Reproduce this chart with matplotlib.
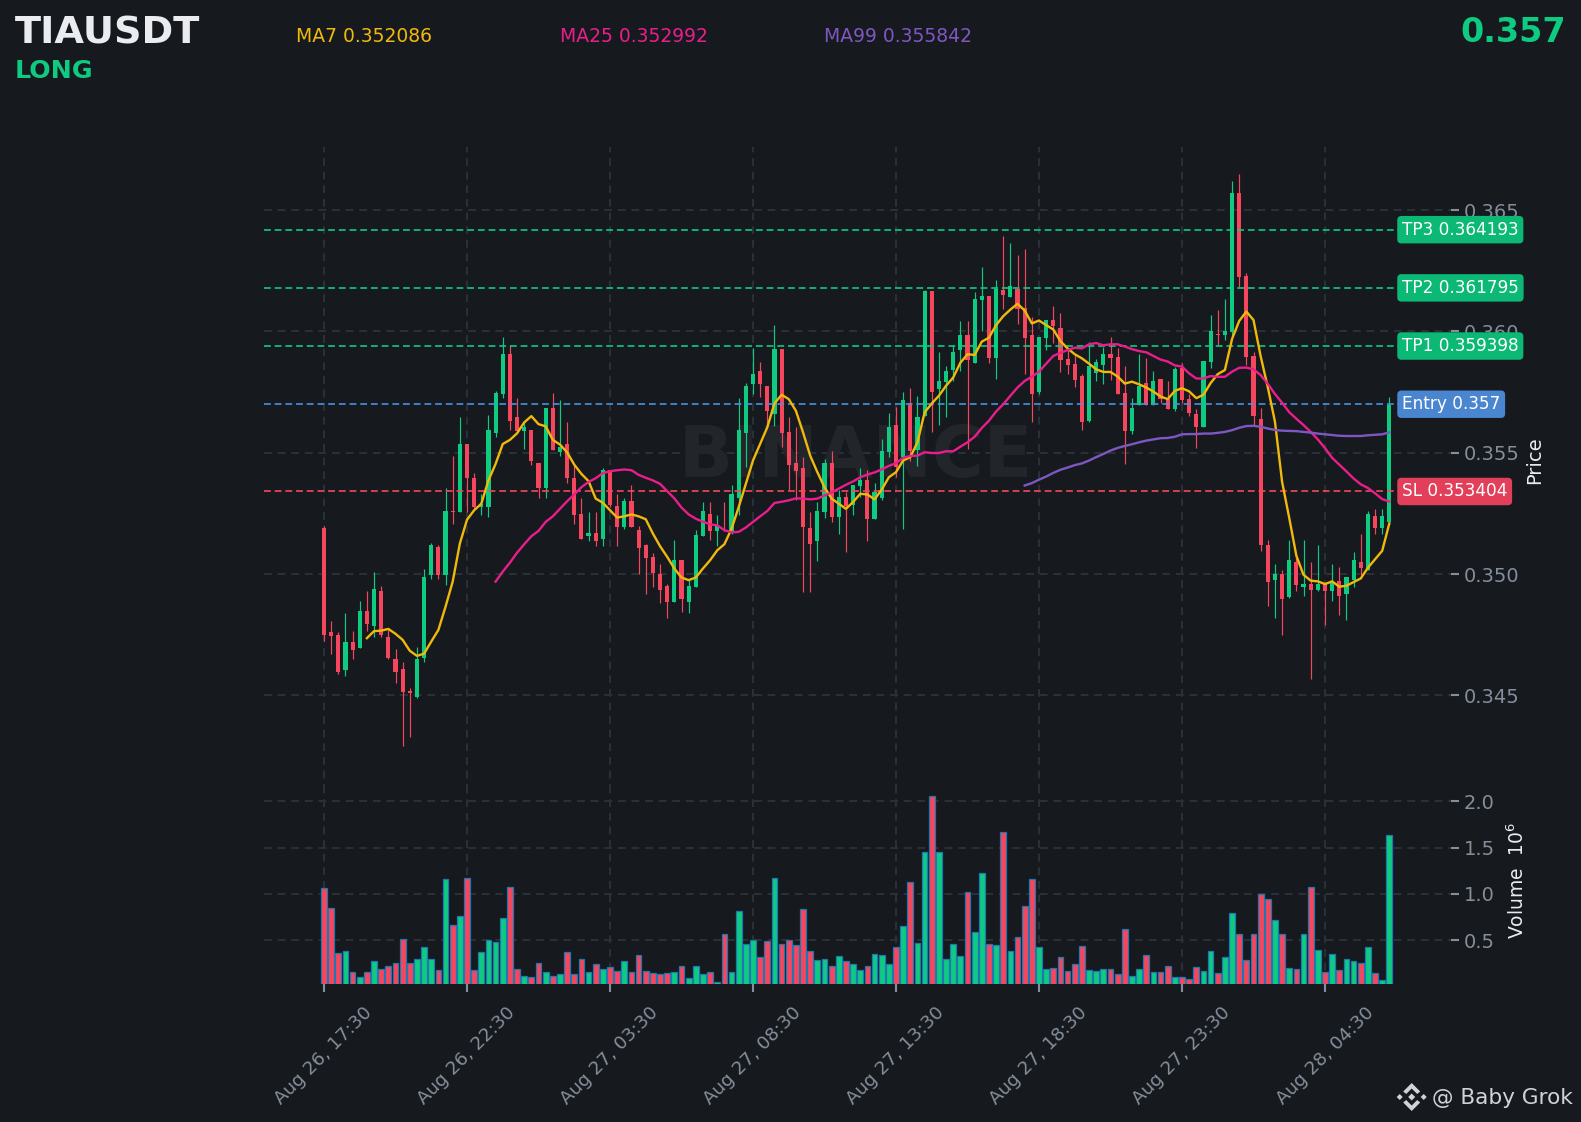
import numpy as np
import matplotlib
matplotlib.use("Agg")
import matplotlib.pyplot as plt
from matplotlib.patches import Polygon
from matplotlib.transforms import blended_transform_factory

# prices in thousandths of a USDT
opens = [351.89,347.62,347.50,346.06,347.21,346.96,348.48,347.87,349.30,347.41,346.51,346.10,345.20,344.95,346.55,349.96,351.11,349.96,352.60,352.54,
355.38,353.98,352.75,352.75,355.83,357.43,359.07,356.48,355.91,355.95,354.56,353.53,356.85,355.05,355.38,353.98,352.46,351.56,351.68,351.44,
354.27,352.79,351.93,353.00,351.81,351.19,350.70,350.00,349.51,348.85,350.57,348.85,349.47,351.56,352.46,351.76,351.96,351.76,353.12,355.83,
357.84,358.37,357.76,356.61,359.28,355.87,354.56,354.39,351.89,351.35,352.54,354.56,352.34,353.16,352.83,353.65,353.86,352.26,353.12,355.05,
356.16,354.84,357.06,355.13,356.53,361.66,357.63,357.92,358.41,359.23,359.85,358.70,361.29,361.45,358.91,361.70,361.41,361.74,360.96,359.85,
357.51,359.73,360.47,360.14,358.86,358.66,358.17,356.32,358.29,358.62,359.07,358.95,357.47,355.91,356.98,357.88,356.98,358.04,357.22,356.81,
358.50,357.22,356.60,356.07,358.74,359.90,359.87,359.97,365.70,362.28,358.98,356.40,351.21,349.76,350.01,349.05,350.51,349.48,349.60,349.36,
349.60,349.29,349.73,349.16,349.76,350.51,350.18,352.40,351.89,352.14]
highs = [351.97,348.08,347.61,348.39,347.67,348.88,349.29,350.07,349.51,347.70,346.91,346.37,345.31,346.99,350.19,351.27,351.19,353.56,354.87,356.46,
355.38,354.16,353.28,356.57,357.55,359.77,359.44,357.25,356.25,355.95,354.56,356.85,357.47,357.17,356.27,354.54,353.15,352.57,352.57,354.38,
354.27,353.28,353.15,353.69,351.97,351.26,350.85,350.40,349.58,351.40,350.57,349.75,351.81,352.98,352.98,352.45,352.98,353.69,357.25,357.88,
359.33,358.74,357.76,360.26,359.28,356.48,356.07,354.84,352.57,352.98,354.75,355.06,353.45,353.37,353.69,354.38,354.27,353.76,355.57,356.63,
356.87,357.52,357.66,357.35,361.72,361.66,359.14,358.56,359.44,360.45,360.45,361.63,362.64,361.45,362.13,363.95,363.63,363.13,363.41,360.60,
359.77,360.47,361.03,360.74,359.26,359.06,358.24,359.55,358.85,359.37,359.77,359.33,358.56,357.24,359.06,358.92,358.37,358.04,357.96,358.55,
358.69,357.42,356.82,358.77,360.68,360.88,361.35,366.18,366.47,362.41,359.16,356.85,351.39,350.43,350.18,351.39,350.78,351.39,350.50,351.18,
349.60,350.43,350.28,349.87,350.92,351.67,352.60,352.67,352.67,357.28]
lows = [347.26,346.69,345.87,345.79,346.50,346.96,347.67,347.40,347.40,346.50,345.51,342.91,343.30,344.88,346.36,349.78,349.78,349.56,352.08,352.54,
352.54,352.71,352.44,352.35,355.64,357.24,355.94,355.91,355.16,354.51,353.15,353.15,355.13,354.87,353.75,352.08,351.44,351.37,351.16,351.16,
352.76,351.16,351.85,351.93,349.99,349.17,349.48,348.80,348.18,348.85,348.45,348.39,349.47,351.56,351.40,351.16,351.76,351.67,352.42,354.43,
357.43,357.31,356.11,356.11,355.23,353.45,353.04,349.27,349.27,350.55,352.30,352.13,351.67,350.89,352.42,353.16,351.38,352.26,353.04,354.84,
354.02,351.87,354.65,354.47,356.53,355.86,356.14,356.46,357.96,358.37,355.16,358.70,360.01,358.71,358.03,360.92,361.41,360.31,358.24,356.25,
357.44,359.25,359.53,358.34,358.24,357.73,355.94,356.25,357.96,357.85,357.99,357.43,354.54,355.77,356.98,356.98,356.98,357.03,356.81,356.73,
357.06,356.50,355.18,356.07,358.48,359.45,359.66,359.83,361.82,358.60,356.11,350.96,348.67,348.17,347.49,349.02,349.30,349.08,345.67,349.30,
347.90,348.88,348.30,348.10,349.48,349.97,350.18,351.67,351.67,352.14]
closes = [347.47,347.46,345.98,347.21,346.88,348.48,347.95,349.38,347.47,346.55,345.98,345.16,345.08,346.51,349.88,351.19,349.96,352.59,352.57,355.38,
353.94,352.75,352.87,355.95,357.47,359.07,356.32,355.91,356.07,354.64,353.53,356.85,355.13,355.25,353.94,352.42,351.44,351.68,351.35,354.27,
352.83,351.93,353.00,351.93,351.07,350.66,350.04,349.34,348.85,350.57,348.97,349.51,351.60,352.59,351.76,351.97,351.93,353.28,355.95,357.76,
358.25,357.84,356.73,359.28,355.83,354.51,354.23,351.93,351.23,352.59,354.56,352.34,353.16,352.79,353.69,353.86,352.26,353.37,355.09,356.07,
354.43,357.18,355.09,356.48,361.66,357.51,357.96,358.37,359.15,359.85,358.82,361.33,361.45,358.91,361.74,361.49,361.86,360.92,359.73,357.43,
359.77,360.47,360.22,358.82,358.62,358.00,356.25,358.58,358.74,359.07,358.91,357.43,355.91,356.85,357.76,356.98,357.96,357.22,356.81,358.45,
357.18,356.64,356.07,358.77,360.01,359.87,360.01,365.70,362.24,358.95,356.50,351.18,349.69,350.01,348.99,350.60,349.57,349.60,349.36,349.60,
349.29,349.65,349.08,349.87,350.60,350.26,352.48,351.89,352.40,356.98]
# volume in millions
volumes = [1.06,0.85,0.36,0.38,0.16,0.10,0.16,0.27,0.19,0.22,0.25,0.51,0.25,0.29,0.42,0.29,0.18,1.16,0.66,0.76,
1.17,0.18,0.37,0.50,0.48,0.74,1.07,0.19,0.11,0.10,0.25,0.16,0.11,0.13,0.37,0.13,0.29,0.16,0.24,0.19,
0.21,0.17,0.27,0.16,0.34,0.17,0.14,0.13,0.14,0.15,0.22,0.09,0.22,0.13,0.15,0.05,0.56,0.16,0.81,0.46,
0.50,0.32,0.49,1.17,0.46,0.50,0.45,0.84,0.38,0.28,0.30,0.22,0.33,0.27,0.24,0.18,0.22,0.35,0.34,0.24,
0.42,0.65,1.13,0.47,1.45,2.06,1.45,0.30,0.46,0.33,1.02,0.59,1.22,0.46,0.45,1.67,0.38,0.53,0.87,1.16,
0.42,0.19,0.20,0.32,0.17,0.24,0.44,0.18,0.17,0.19,0.19,0.13,0.62,0.11,0.19,0.34,0.15,0.16,0.22,0.10,
0.10,0.08,0.21,0.17,0.38,0.14,0.32,0.79,0.56,0.28,0.56,1.00,0.94,0.72,0.56,0.20,0.19,0.56,1.07,0.39,
0.16,0.35,0.18,0.29,0.27,0.25,0.43,0.14,0.07,1.63]
# moving averages; first value of each at candle 6, 24, 98
ma7 = [347.36,347.65,347.67,347.74,347.54,347.29,346.84,346.63,346.72,347.22,347.70,348.66,349.69,351.26,352.24,352.63,352.90,353.86,
354.54,355.36,355.53,355.80,356.25,356.51,356.18,356.09,355.53,355.34,355.02,354.51,354.13,353.83,353.11,352.94,352.63,352.33,352.38,352.46,352.38,352.26,
351.67,351.15,350.71,350.23,349.86,349.75,349.86,350.23,350.57,350.98,351.23,351.87,352.76,353.72,354.68,355.36,356.05,357.03,357.39,357.21,
356.73,355.84,354.88,354.20,353.58,353.11,352.90,352.69,352.97,353.31,353.28,353.08,353.48,353.99,354.20,354.68,354.82,355.43,356.66,357.03,
357.35,357.76,358.10,358.71,359.06,359.03,359.58,359.74,360.26,360.63,360.90,361.14,360.86,360.33,360.45,360.26,360.08,359.60,359.30,359.06,
358.89,358.67,358.44,358.33,358.33,358.14,357.85,357.93,357.82,357.69,357.52,357.32,357.21,357.55,357.66,357.53,357.25,357.39,357.87,358.24,
358.41,359.69,360.43,360.82,360.47,358.98,357.70,356.28,353.80,352.31,350.75,349.97,349.73,349.70,349.59,349.70,349.48,349.52,349.67,349.82,
350.26,350.61,350.96,352.09]
ma25 = [349.69,350.10,350.47,350.88,351.23,351.56,351.78,352.15,352.38,352.69,353.00,353.28,353.58,353.80,353.95,354.16,
354.24,354.28,354.31,354.28,354.09,353.97,353.86,353.72,353.42,353.12,352.74,352.46,352.28,352.16,352.05,352.01,351.81,351.72,351.74,351.92,
352.15,352.38,352.60,352.93,352.98,353.04,353.12,353.11,353.08,353.11,353.24,353.37,353.52,353.68,353.82,353.99,354.10,354.19,354.31,354.46,
354.57,354.79,354.87,354.88,355.02,354.99,354.99,355.06,355.06,355.25,355.43,355.66,356.02,356.32,356.70,357.00,357.35,357.69,357.96,358.13,
358.34,358.67,358.99,359.12,359.23,359.33,359.30,359.47,359.52,359.43,359.47,359.47,359.38,359.27,359.19,359.14,358.99,358.84,358.76,358.60,
358.55,358.27,358.06,358.06,358.16,358.13,358.13,358.34,358.50,358.51,358.44,358.20,357.84,357.42,357.06,356.67,356.40,356.14,355.86,355.55,
355.19,354.79,354.51,354.23,353.94,353.70,353.55,353.33,353.09,352.99]
ma99 = [353.65,353.75,353.89,354.02,354.17,354.30,354.39,354.49,354.56,354.68,354.82,354.95,355.09,355.20,355.28,355.35,355.43,355.50,355.55,355.60,355.61,355.66,
355.76,355.77,355.77,355.79,355.79,355.82,355.86,355.93,356.03,356.10,356.11,356.07,356.00,355.94,355.91,355.90,355.89,355.86,355.83,355.79,355.76,355.73,355.70,355.69,355.69,355.69,355.72,355.74,355.76,355.84]

tick_positions = [0,20,40,60,80,100,120,140]
tick_labels = ["Aug 26, 17:30","Aug 26, 22:30","Aug 27, 03:30","Aug 27, 08:30","Aug 27, 13:30","Aug 27, 18:30","Aug 27, 23:30","Aug 28, 04:30"]
level_names = ["TP3 0.364193","TP2 0.361795","TP1 0.359398","Entry 0.357","SL 0.353404"]
level_prices = [364.193,361.795,359.398,357.0,353.404]
price_ticks = [345,350,355,360,365]
volume_ticks = [0.5,1.0,1.5,2.0]

BG="#161A1E"; UP="#0ECB81"; DOWN="#F6465D"; GRID="#2B3139"; TICK="#848E9C"; LIGHT="#EAECEF"
LEVEL_LINE=[UP,UP,UP,"#4A90E2",DOWN]
LEVEL_BOX=["#0BB974","#0BB974","#0BB974","#4A85D0","#E2405A"]
W,H=1581,1122
fig=plt.figure(figsize=(W/100,H/100),dpi=100,facecolor=BG)
def rect(l,t,r,b): return [l/W,1-b/H,(r-l)/W,(b-t)/H]
ax=fig.add_axes(rect(264,147,1451,792),facecolor=BG)
av=fig.add_axes(rect(264,792,1451,984),facecolor=BG,sharex=ax)

o,h,l,c=map(np.array,(opens,highs,lows,closes))
x=np.arange(len(o))
colors=np.where(c>=o,UP,DOWN)
ax.vlines(x,l,h,colors=colors,lw=0.85,zorder=3)
ax.bar(x,np.abs(c-o),bottom=np.minimum(o,c),width=0.58,color=colors,lw=0,zorder=3)
ax.plot(x[6:6+len(ma7)],ma7,color="#F0B90B",lw=1.7,zorder=5)
ax.plot(x[24:24+len(ma25)],ma25,color="#E91E8C",lw=1.7,zorder=5)
ax.plot(x[98:98+len(ma99)],ma99,color="#7E57C2",lw=1.7,zorder=5)
av.bar(x,volumes,width=0.8,color=colors,edgecolor="#1f77b4",lw=0.9,zorder=3)

trans=blended_transform_factory(ax.transAxes,ax.transData)
for name,p,lc,bc in zip(level_names,level_prices,LEVEL_LINE,LEVEL_BOX):
    ax.axhline(p,color=lc,ls=(0,(3.5,2)),lw=1.4,alpha=0.85,zorder=4)
    ax.text((1402-264)/1187,p,name,transform=trans,ha="left",va="center",fontsize=12.15,color="white",zorder=7,clip_on=False,
            bbox=dict(boxstyle="round,pad=0.28,rounding_size=0.25",fc=bc,ec="none"))

ax.set_xlim((264-324)/7.15,(1451-324)/7.15)
ax.set_ylim(341.02,367.60)
av.set_ylim(0.025,2.10)
ax.set_yticks(price_ticks); ax.set_yticklabels([f"{p/1000:.3f}" for p in price_ticks])
av.set_yticks(volume_ticks); av.set_yticklabels([f"{v:.1f}" for v in volume_ticks])
av.set_xticks(tick_positions); av.set_xticklabels(tick_labels,rotation=45,ha="center",va="top")
ax.tick_params(axis="x",length=0,labelbottom=False)
for a in (ax,av):
    a.yaxis.tick_right()
    a.tick_params(axis="y",colors=TICK,labelsize=14,length=6,width=1.5,pad=3)
    a.grid(True,color=GRID,ls=(0,(4,3)),lw=1.4,zorder=0)
    a.set_axisbelow(True)
    for s in a.spines.values(): s.set_visible(False)
av.tick_params(axis="x",colors=TICK,labelsize=13.2,length=6,width=1.5,pad=8)

ax.text((856-264)/1187,1-(458-147)/645,"BINANCE",transform=ax.transAxes,fontsize=51,fontweight="bold",color="#22262B",ha="center",va="center",zorder=1)
fig.text(15/W,1-33/H,"TIAUSDT",fontsize=27.5,fontweight="bold",color=LIGHT,ha="left",va="center")
fig.text(15/W,1-71/H,"LONG",fontsize=18.2,fontweight="bold",color=UP,ha="left",va="center")
for t,xp,col in [("MA7 0.352086",296,"#F0B90B"),("MA25 0.352992",560,"#E91E8C"),("MA99 0.355842",824,"#7E57C2")]:
    fig.text(xp/W,1-37/H,t,fontsize=13.5,color=col,ha="left",va="center")
fig.text(1566/W,1-33/H,"0.357",fontsize=24,fontweight="bold",color=UP,ha="right",va="center")
fig.text(1535/W,1-460/H,"Price",fontsize=14,color=LIGHT,rotation=90,ha="center",va="center")
fig.text(1517/W,1-881/H,"Volume  $10^{6}$",fontsize=13.5,color=LIGHT,rotation=90,ha="center",va="center")
fig.text(1432/W,1-1098/H,"@ Baby Grok",fontsize=15.6,color="#D0D3D8",ha="left",va="center")
def logo(pts):
    fig.add_artist(Polygon([((1411.7+a)/W,1-(1097+b)/H) for a,b in pts],closed=True,fc="#D0D3D8",ec="none",transform=fig.transFigure))
logo([(0,-3.5),(3.5,0),(0,3.5),(-3.5,0)])
logo([(-12,-3),(-9,0),(-12,3),(-15,0)]); logo([(12,-3),(15,0),(12,3),(9,0)])
logo([(0,-14),(8.5,-5.5),(5.5,-3),(0,-8.5),(-5.5,-3),(-8.5,-5.5)])
logo([(0,14),(8.5,5.5),(5.5,3),(0,8.5),(-5.5,3),(-8.5,5.5)])
fig.savefig("out.png",dpi=100,facecolor=BG)
